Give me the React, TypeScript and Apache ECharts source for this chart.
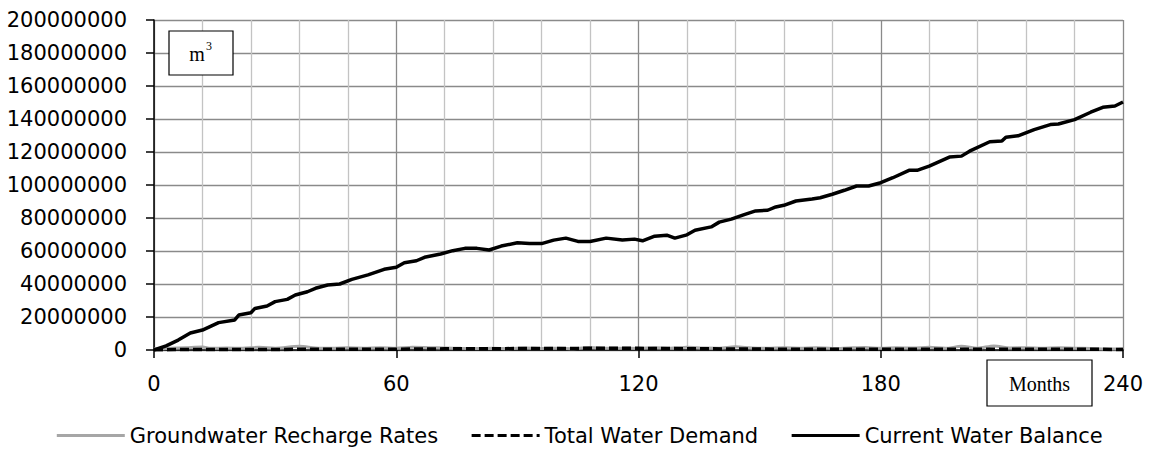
import React, { useEffect, useRef } from "react";
import * as echarts from "echarts";

// Values in millions of m³
const balanceMonths = [0, 3, 6, 9, 12, 16, 20, 21, 24, 25, 28, 30, 33, 35, 38, 40, 43, 46, 49, 53, 57, 60, 62, 65, 67, 71, 74, 77, 80, 83, 86, 90, 93, 96, 99, 102, 105, 108, 112, 116, 119, 121, 124, 127, 129, 132, 134, 138, 140, 143, 146, 149, 152, 154, 156, 159, 163, 165, 168, 171, 174, 177, 180, 183, 187, 189, 192, 197, 200, 202, 207, 210, 211, 214, 218, 222, 224, 228, 232, 235, 238, 240];
const balanceValues = [0, 2.5, 6, 10.3, 12.1, 16.6, 18.2, 21.2, 22.6, 25.2, 26.7, 29.3, 30.7, 33.3, 35.3, 37.4, 39.4, 40, 42.8, 45.5, 48.9, 50.1, 52.9, 54.1, 56.2, 58.2, 60.2, 61.6, 61.6, 60.6, 63, 65, 64.5, 64.5, 66.6, 67.8, 65.8, 65.8, 67.8, 66.6, 67.2, 66.2, 69, 69.6, 67.8, 69.8, 72.6, 74.6, 77.5, 79.3, 81.9, 84.3, 84.7, 86.7, 87.7, 90.3, 91.5, 92.3, 94.4, 96.8, 99.4, 99.4, 101.4, 104.4, 108.9, 108.9, 111.5, 116.9, 117.5, 120.5, 126.2, 126.6, 129, 129.8, 133.6, 136.6, 137, 139.6, 144.1, 147.1, 147.9, 150.3];

const rechargeMonths = [0, 4, 8, 12, 14, 18, 22, 26, 30, 36, 40, 44, 48, 52, 56, 60, 64, 68, 72, 76, 80, 84, 88, 92, 96, 100, 104, 108, 112, 116, 120, 124, 128, 132, 136, 140, 144, 148, 152, 156, 160, 164, 168, 172, 176, 180, 184, 188, 192, 196, 200, 204, 208, 212, 216, 220, 224, 228, 232, 236, 240];
const rechargeValues = [0.6, 1.0, 1.4, 1.8, 1.0, 1.2, 1.0, 1.6, 1.1, 2.2, 1.2, 1.0, 1.3, 1.1, 1.4, 1.0, 1.6, 1.4, 1.2, 1.0, 0.9, 1.0, 0.8, 1.2, 0.9, 1.1, 0.8, 1.5, 1.0, 1.1, 0.9, 1.4, 1.0, 1.6, 1.2, 1.1, 1.9, 1.2, 1.0, 1.3, 1.1, 1.4, 0.9, 1.2, 1.5, 1.0, 1.3, 1.2, 1.6, 1.0, 2.2, 1.1, 2.5, 1.2, 1.4, 1.0, 1.3, 1.1, 0.9, 0.6, 0.8];

const demandMonths = [0, 12, 24, 36, 48, 60, 72, 84, 96, 108, 120, 132, 144, 156, 168, 180, 192, 204, 216, 228, 240];
const demandValues = [0.2, 0.3, 0.3, 0.4, 0.4, 0.5, 0.7, 0.8, 0.9, 1.0, 1.0, 0.8, 0.6, 0.5, 0.5, 0.5, 0.5, 0.5, 0.4, 0.5, 0.3];

const xTicks = { min: 0, max: 240, interval: 60 };
const yTicks = { min: 0, max: 200000000, interval: 20000000 };
const MILLION = 1000000;

const seriesNames = ["Groundwater Recharge Rates", "Total Water Demand", "Current Water Balance"];

const pairs = (xs: number[], ys: number[]) => xs.map((x, i) => [x, ys[i] * MILLION]);

const FONT = "DejaVu Sans";

export default function App() {
  const ref = useRef<HTMLDivElement>(null);
  useEffect(() => {
    if (!ref.current) return;
    const chart = echarts.init(ref.current, undefined, { renderer: "svg" });
    chart.setOption({
      animation: false,
      backgroundColor: "#fff",
      grid: { left: 154, right: 35, top: 20, bottom: 99, containLabel: false },
      legend: {
        data: seriesNames,
        top: 420,
        left: "center",
        itemWidth: 68,
        itemHeight: 20,
        itemGap: 32,
        itemStyle: { opacity: 0 },
        lineStyle: { width: 3 },
        textStyle: { fontFamily: FONT, fontSize: 21, color: "#000" },
      },
      xAxis: {
        type: "value",
        min: xTicks.min,
        max: xTicks.max,
        interval: xTicks.interval,
        axisLine: { show: true, onZero: false, lineStyle: { color: "#000", width: 1.5 } },
        axisTick: { show: true, length: 8, lineStyle: { color: "#000", width: 1.5 } },
        axisLabel: { margin: 23, fontFamily: FONT, fontSize: 21, color: "#000" },
        splitLine: { show: true, lineStyle: { color: "#8a8a8a", width: 1.3 } },
        minorTick: { show: false, splitNumber: 5 },
        minorSplitLine: { show: true, lineStyle: { color: "#c3c3c3", width: 1.3 } },
      },
      yAxis: {
        type: "value",
        min: yTicks.min,
        max: yTicks.max,
        interval: yTicks.interval,
        axisLine: { show: true, lineStyle: { color: "#000", width: 1.5 } },
        axisTick: { show: true, length: 8, lineStyle: { color: "#000", width: 1.5 } },
        axisLabel: {
          margin: 27,
          fontFamily: FONT,
          fontSize: 21,
          color: "#000",
          formatter: (v: number) => String(Math.round(v)),
        },
        splitLine: { show: true, lineStyle: { color: "#8a8a8a", width: 1.3 } },
      },
      series: [
        {
          name: seriesNames[0],
          type: "line",
          data: pairs(rechargeMonths, rechargeValues),
          showSymbol: false,
          symbol: "none",
          smooth: 0.3,
          lineStyle: { color: "#a6a6a6", width: 3 },
          itemStyle: { color: "#a6a6a6" },
        },
        {
          name: seriesNames[1],
          type: "line",
          data: pairs(demandMonths, demandValues),
          showSymbol: false,
          symbol: "none",
          lineStyle: { color: "#000", width: 3.5, type: [9, 4] },
          itemStyle: { color: "#000" },
        },
        {
          name: seriesNames[2],
          type: "line",
          data: pairs(balanceMonths, balanceValues),
          showSymbol: false,
          symbol: "none",
          lineStyle: { color: "#000", width: 3.5 },
          itemStyle: { color: "#000" },
        },
      ],
      graphic: [
        {
          type: "rect",
          z: 100,
          shape: { x: 169, y: 31, width: 64, height: 44 },
          style: { fill: "#fff", stroke: "#000", lineWidth: 1.2 },
        },
        {
          type: "text",
          z: 101,
          x: 197,
          y: 54,
          style: { text: "m", fontFamily: "Liberation Serif", fontSize: 20, fill: "#000", textAlign: "center", textVerticalAlign: "middle" },
        },
        {
          type: "text",
          z: 101,
          x: 206,
          y: 46,
          style: { text: "3", fontFamily: "Liberation Serif", fontSize: 12, fill: "#000", textAlign: "left", textVerticalAlign: "middle" },
        },
        {
          type: "rect",
          z: 100,
          shape: { x: 987, y: 360, width: 105, height: 46 },
          style: { fill: "#fff", stroke: "#000", lineWidth: 1.2 },
        },
        {
          type: "text",
          z: 101,
          x: 1039.5,
          y: 384,
          style: { text: "Months", fontFamily: "Liberation Serif", fontSize: 20, fill: "#000", textAlign: "center", textVerticalAlign: "middle" },
        },
      ],
    });
    return () => chart.dispose();
  }, []);
  return (
    <div
      ref={ref}
      style={{ position: "fixed", left: 0, top: 0, width: 1158, height: 449, background: "#fff" }}
    />
  );
}
